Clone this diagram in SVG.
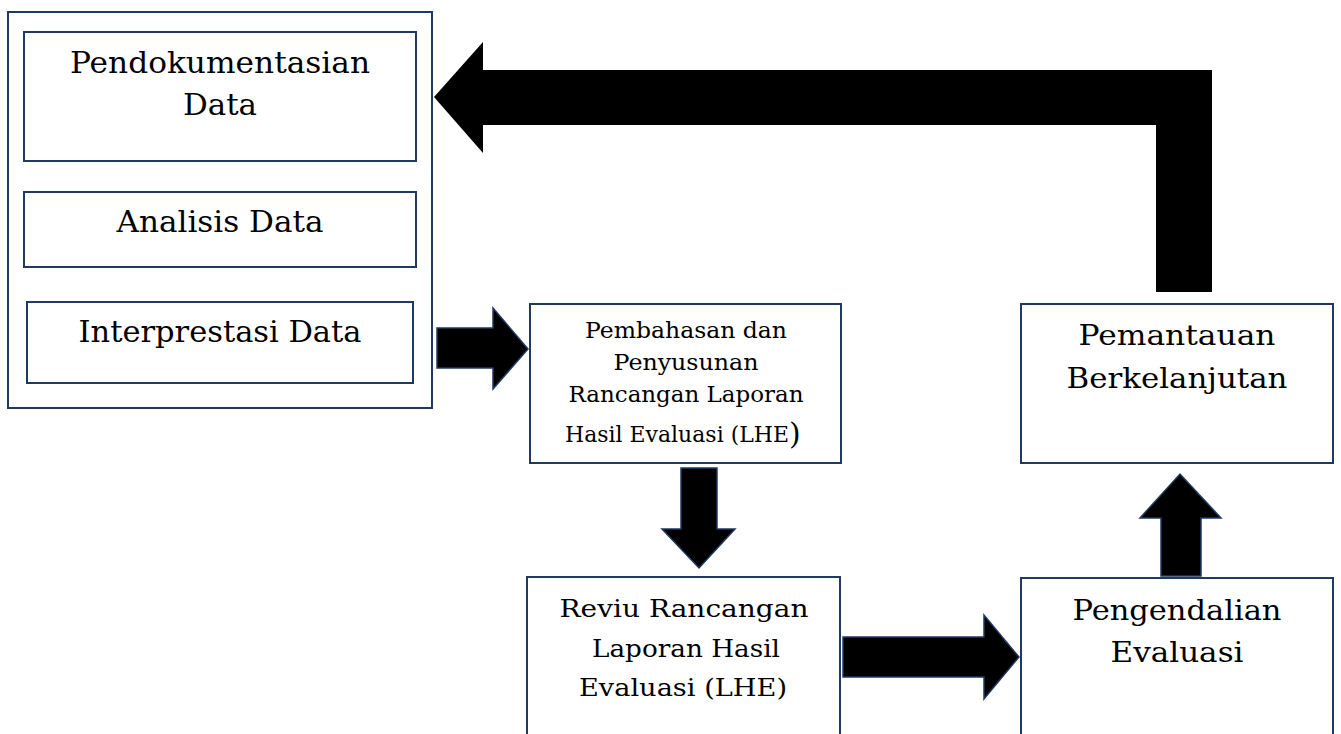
<svg xmlns="http://www.w3.org/2000/svg" width="1341" height="734" viewBox="0 0 1341 734">
  <style>
    .box { fill: #ffffff; stroke: #1f3a60; stroke-width: 2; }
    .arr { fill: #000000; stroke: #1f3a60; stroke-width: 1.5; stroke-linejoin: miter; }
    .big { fill: #000000; stroke: none; }
    text { font-family: "DejaVu Serif", "Liberation Serif", serif; fill: #000000; text-anchor: middle; }
    .t29 { font-size: 29px; }
    .t28 { font-size: 28px; }
    .t25 { font-size: 25px; }
    .t22 { font-size: 22px; }
  </style>
  <rect width="1341" height="734" fill="#ffffff"/>

  <g id="group-left">
    <rect class="box" x="8" y="12" width="424" height="396"/>
  </g>

  <g id="node-pendokumentasian">
    <rect class="box" x="24" y="32" width="392" height="129"/>
    <text class="t29" x="220" y="73" textLength="300" lengthAdjust="spacingAndGlyphs">Pendokumentasian</text>
    <text class="t29" x="220" y="115" textLength="74" lengthAdjust="spacingAndGlyphs">Data</text>
  </g>

  <g id="node-analisis">
    <rect class="box" x="24" y="192" width="392" height="75"/>
    <text class="t29" x="220" y="232" textLength="207" lengthAdjust="spacingAndGlyphs">Analisis Data</text>
  </g>

  <g id="node-interprestasi">
    <rect class="box" x="27" y="302" width="386" height="81"/>
    <text class="t29" x="220" y="342" textLength="283" lengthAdjust="spacingAndGlyphs">Interprestasi Data</text>
  </g>

  <g id="node-pembahasan">
    <rect class="box" x="530" y="304" width="311" height="159"/>
    <text class="t22" x="686" y="338" textLength="202" lengthAdjust="spacingAndGlyphs">Pembahasan dan</text>
    <text class="t22" x="686" y="370" textLength="145" lengthAdjust="spacingAndGlyphs">Penyusunan</text>
    <text class="t22" x="686" y="402" textLength="235" lengthAdjust="spacingAndGlyphs">Rancangan Laporan</text>
    <text class="t22" x="565" y="442" style="text-anchor:start"><tspan textLength="224" lengthAdjust="spacingAndGlyphs">Hasil Evaluasi (LHE</tspan><tspan style="font-size:30px" dy="2">)</tspan></text>
  </g>

  <g id="node-reviu">
    <rect class="box" x="527" y="577" width="313" height="170"/>
    <text class="t25" x="684" y="617" textLength="249" lengthAdjust="spacingAndGlyphs">Reviu Rancangan</text>
    <text class="t25" x="686" y="657" textLength="188" lengthAdjust="spacingAndGlyphs">Laporan Hasil</text>
    <text class="t25" x="683" y="696" textLength="208" lengthAdjust="spacingAndGlyphs">Evaluasi (LHE)</text>
  </g>

  <g id="node-pengendalian">
    <rect class="box" x="1021" y="578" width="312" height="170"/>
    <text class="t28" x="1177" y="620" textLength="209" lengthAdjust="spacingAndGlyphs">Pengendalian</text>
    <text class="t28" x="1177" y="662" textLength="133" lengthAdjust="spacingAndGlyphs">Evaluasi</text>
  </g>

  <g id="node-pemantauan">
    <rect class="box" x="1021" y="304" width="312" height="159"/>
    <text class="t28" x="1177" y="345" textLength="197" lengthAdjust="spacingAndGlyphs">Pemantauan</text>
    <text class="t28" x="1177" y="388" textLength="221" lengthAdjust="spacingAndGlyphs">Berkelanjutan</text>
  </g>

  <g id="connectors">
    <polygon class="arr" points="437,328 493,328 493,308 528,349 493,389 493,368 437,368"/>
    <polygon class="arr" points="681,468 717,468 717,529 735,529 699,568 662,529 681,529"/>
    <polygon class="arr" points="843,637 984,637 984,615 1019,657 984,699 984,677 843,677"/>
    <polygon class="arr" points="1161,576 1161,518 1140,518 1180,474 1221,518 1201,518 1201,576"/>
    <polygon class="big" points="434,97 483,42 483,70 1212,70 1212,292 1156,292 1156,125 483,125 483,153"/>
  </g>
</svg>
